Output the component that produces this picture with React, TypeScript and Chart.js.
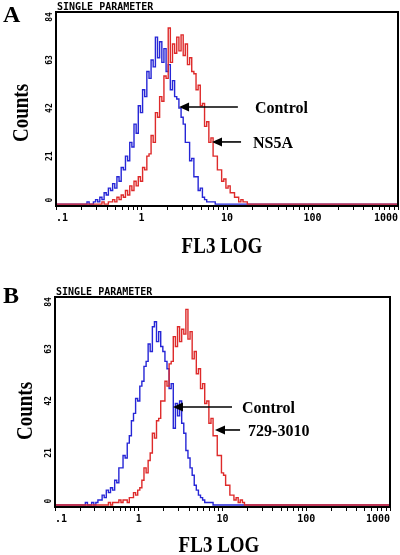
import React, { useEffect, useRef } from 'react';
import { Chart, registerables } from 'chart.js';

Chart.register(...registerables);

// Fluorescence channel values (FL3, log scale)
const fluorescence = [
  0.1,
  0.200, 0.212, 0.224, 0.237, 0.251, 0.266, 0.282, 0.299, 0.316, 0.335,
  0.355, 0.376, 0.398, 0.422, 0.447, 0.473, 0.501, 0.531, 0.562, 0.596,
  0.631, 0.668, 0.708, 0.750, 0.794, 0.841, 0.891, 0.944, 1.00, 1.06,
  1.12, 1.19, 1.26, 1.33, 1.41, 1.50, 1.58, 1.68, 1.78, 1.88,
  2.00, 2.11, 2.24, 2.37, 2.51, 2.66, 2.82, 2.99, 3.16, 3.35,
  3.55, 3.76, 3.98, 4.22, 4.47, 4.73, 5.01, 5.31, 5.62, 5.96,
  6.31, 6.68, 7.08, 7.50, 7.94, 8.41, 8.91, 9.44, 10.0, 10.6,
  11.2, 11.9, 12.6, 13.3, 14.1, 15.0, 15.8, 16.8, 17.8, 18.8, 20.0,
  1000,
];

// Panel A counts
const controlA = [
  0,
  0, 0, 0, 1, 0, 0, 1, 2, 1, 3,
  2, 5, 4, 7, 6, 9, 7, 12, 10, 16,
  15, 21, 19, 27, 25, 35, 31, 43, 40, 50,
  47, 58, 55, 63, 60, 73, 64, 71, 62, 68,
  58, 61, 50, 54, 47, 46, 42, 38, 35, 27,
  27, 19, 20, 12, 12, 6, 7, 3, 2, 1,
  1, 1, 1, 0, 0, 0, 0, 0, 0, 0,
  0, 0, 0, 0, 0, 0, 0, 0, 0, 0, 0,
  0,
];
const ns5aA = [
  0,
  0, 0, 0, 0, 0, 0, 0, 0, 0, 0,
  1, 0, 0, 1, 1, 2, 1, 3, 2, 4,
  3, 6, 4, 8, 6, 10, 8, 12, 10, 16,
  15, 21, 22, 30, 27, 40, 38, 47, 45, 56,
  55, 77, 62, 70, 66, 73, 67, 74, 65, 70,
  61, 64, 58, 57, 50, 52, 43, 44, 34, 36,
  27, 29, 21, 21, 15, 15, 10, 11, 7, 8,
  5, 5, 3, 3, 1, 2, 1, 1, 0, 0, 0,
  0,
];

// Panel B counts
const controlB = [
  0,
  0, 0, 0, 1, 0, 0, 1, 0, 1, 2,
  2, 4, 3, 6, 5, 7, 6, 10, 9, 15,
  15, 20, 19, 25, 28, 34, 37, 43, 42, 48,
  50, 56, 58, 65, 62, 72, 74, 66, 70, 64,
  62, 58, 55, 47, 49, 31, 41, 36, 42, 33,
  29, 22, 19, 15, 12, 8, 6, 4, 3, 2,
  1, 1, 1, 1, 0, 0, 0, 0, 0, 0,
  0, 0, 0, 0, 0, 0, 0, 0, 0, 0, 0,
  0,
];
const strainB = [
  0,
  0, 0, 0, 0, 0, 0, 0, 0, 0, 0,
  0, 0, 0, 0, 1, 0, 1, 1, 1, 2,
  1, 2, 2, 1, 3, 3, 5, 4, 6, 7,
  10, 15, 13, 18, 21, 29, 27, 34, 35, 42,
  42, 50, 48, 57, 58, 68, 64, 72, 66, 71,
  69, 79, 67, 70, 59, 62, 53, 55, 47, 49,
  41, 42, 33, 35, 28, 28, 20, 20, 13, 12,
  8, 8, 4, 4, 2, 3, 1, 2, 1, 0, 0,
  0,
];

const xTickValues = [
  0.1, 0.2, 0.3, 0.4, 0.5, 0.6, 0.7, 0.8, 0.9,
  1, 2, 3, 4, 5, 6, 7, 8, 9,
  10, 20, 30, 40, 50, 60, 70, 80, 90,
  100, 200, 300, 400, 500, 600, 700, 800, 900,
  1000,
];
const xTickLabels: Record<string, string> = { '0.1': '.1', '1': '1', '10': '10', '100': '100', '1000': '1000' };
const yTickValues = [0, 21, 42, 63, 84];
const yTickLabels = ['0', '21', '42', '63', '84'];

type Annot = { text: string; tipX: number; tailX: number; y: number; textX: number };

const annotationsA: Annot[] = [
  { text: 'Control', tipX: 2.75, tailX: 13.4, y: 42.5, textX: 21.2 },
  { text: 'NS5A', tipX: 6.68, tailX: 14.6, y: 27.2, textX: 20.1 },
];
const annotationsB: Annot[] = [
  { text: 'Control', tipX: 2.56, tailX: 13.0, y: 39.6, textX: 17.1 },
  { text: '729-3010', tipX: 8.13, tailX: 16.2, y: 30.3, textX: 20.2 },
];

type PanelCfg = {
  letter: string;
  height: number;
  padTop: number;
  padRight: number;
  yAxisWidth: number;
  xAxisHeight: number;
  control: number[];
  sample: number[];
  sampleName: string;
  annotations: Annot[];
  letterBaseline: number;
  countsCenter: [number, number];
  xTitleCenter: [number, number];
};

const panelA: PanelCfg = {
  letter: 'A', height: 275, padTop: 12, padRight: 2, yAxisWidth: 56, xAxisHeight: 69,
  control: controlA, sample: ns5aA, sampleName: 'NS5A', annotations: annotationsA,
  letterBaseline: 22, countsCenter: [20, 113], xTitleCenter: [222, 245],
};
const panelB: PanelCfg = {
  letter: 'B', height: 280, padTop: 22, padRight: 10, yAxisWidth: 55, xAxisHeight: 48,
  control: controlB, sample: strainB, sampleName: '729-3010', annotations: annotationsB,
  letterBaseline: 28, countsCenter: [24, 136], xTitleCenter: [219, 269],
};

const SERIF = '"Liberation Serif", "Times New Roman", serif';
const MONO = '"DejaVu Sans Mono", monospace';

function decorPlugin(cfg: PanelCfg) {
  return {
    id: 'decor' + cfg.letter,
    afterDraw(chart: any) {
      const ctx: CanvasRenderingContext2D = chart.ctx;
      const { left, right, top, bottom } = chart.chartArea;
      const xs = chart.scales.x;
      const ys = chart.scales.y;
      ctx.save();
      // frame
      ctx.strokeStyle = '#000';
      ctx.lineWidth = 2;
      ctx.strokeRect(left, top, right - left, bottom - top);
      ctx.fillStyle = '#000';
      // rotated y tick labels
      ctx.font = 'bold 8px ' + MONO;
      ctx.textAlign = 'center';
      ctx.textBaseline = 'middle';
      yTickValues.forEach((v, i) => {
        let py = ys.getPixelForValue(v);
        py = Math.min(Math.max(py, top + 5), bottom - 6);
        ctx.save();
        ctx.translate(left - 6, py);
        ctx.rotate(-Math.PI / 2);
        ctx.fillText(yTickLabels[i], 0, 0);
        ctx.restore();
      });
      // header
      ctx.font = 'bold 10px ' + MONO;
      ctx.textAlign = 'left';
      ctx.textBaseline = 'alphabetic';
      ctx.fillText('SINGLE PARAMETER', left + 1, top - 2.5);
      // panel letter
      ctx.font = 'bold 24px ' + SERIF;
      ctx.fillText(cfg.letter, 3, cfg.letterBaseline);
      // Counts
      ctx.save();
      ctx.translate(cfg.countsCenter[0], cfg.countsCenter[1]);
      ctx.rotate(-Math.PI / 2);
      ctx.scale(1, 1.2);
      ctx.font = 'bold 19px ' + SERIF;
      ctx.textAlign = 'center';
      ctx.fillText('Counts', 0, 6.3);
      ctx.restore();
      // x title
      ctx.save();
      ctx.translate(cfg.xTitleCenter[0], cfg.xTitleCenter[1]);
      ctx.scale(1, 1.2);
      ctx.font = 'bold 19px ' + SERIF;
      ctx.textAlign = 'center';
      ctx.fillText('FL3 LOG', 0, 6.3);
      ctx.restore();
      // annotations
      cfg.annotations.forEach((a) => {
        const tip = xs.getPixelForValue(a.tipX);
        const tail = xs.getPixelForValue(a.tailX);
        const py = ys.getPixelForValue(a.y);
        ctx.strokeStyle = '#000';
        ctx.lineWidth = 1.6;
        ctx.beginPath();
        ctx.moveTo(tail, py);
        ctx.lineTo(tip + 6, py);
        ctx.stroke();
        ctx.beginPath();
        ctx.moveTo(tip, py);
        ctx.lineTo(tip + 10, py - 4.5);
        ctx.lineTo(tip + 10, py + 4.5);
        ctx.closePath();
        ctx.fill();
        ctx.save();
        ctx.translate(xs.getPixelForValue(a.textX), py);
        ctx.scale(1, 1.1);
        ctx.font = 'bold 16px ' + SERIF;
        ctx.textAlign = 'left';
        ctx.fillText(a.text, 0, 5.3);
        ctx.restore();
      });
      ctx.restore();
    },
  };
}

function Panel({ cfg }: { cfg: PanelCfg }) {
  const ref = useRef<HTMLCanvasElement>(null);
  useEffect(() => {
    const chart = new Chart(ref.current as HTMLCanvasElement, {
      type: 'line',
      data: {
        datasets: [
          {
            label: cfg.sampleName,
            data: fluorescence.map((x, i) => ({ x, y: cfg.sample[i] })),
            borderColor: '#de2a2a',
            borderWidth: 1.4,
            pointRadius: 0,
            stepped: 'middle',
            fill: false,
          },
          {
            label: 'Control',
            data: fluorescence.map((x, i) => ({ x, y: cfg.control[i] })),
            borderColor: '#2626d6',
            borderWidth: 1.4,
            pointRadius: 0,
            stepped: 'middle',
            fill: false,
          },
        ],
      },
      options: {
        animation: false,
        responsive: false,
        maintainAspectRatio: false,
        layout: { padding: { top: cfg.padTop, right: cfg.padRight, left: 0, bottom: 0 } },
        plugins: {
          legend: { display: false },
          tooltip: { enabled: false },
          title: { display: false },
        },
        scales: {
          x: {
            type: 'logarithmic',
            min: 0.1,
            max: 1000,
            afterBuildTicks: (s: any) => {
              s.ticks = xTickValues.map((v) => ({ value: v }));
            },
            afterFit: (s: any) => {
              s.height = cfg.xAxisHeight;
              s.paddingLeft = 0;
              s.paddingRight = 0;
            },
            grid: {
              display: true,
              drawOnChartArea: false,
              drawTicks: true,
              tickLength: 4,
              tickColor: '#000',
              tickWidth: 1,
              color: '#000',
            },
            border: { display: false },
            ticks: {
              autoSkip: false,
              maxRotation: 0,
              minRotation: 0,
              align: 'inner',
              padding: 2,
              color: '#000',
              font: { family: 'DejaVu Sans Mono', size: 10, weight: 'bold' },
              callback: (v: any) => xTickLabels[String(v)] ?? '',
            },
          },
          y: {
            type: 'linear',
            min: -0.8,
            max: 84,
            ticks: { display: false },
            grid: { display: false },
            border: { display: false },
            afterFit: (s: any) => {
              s.width = cfg.yAxisWidth;
              s.paddingTop = 0;
              s.paddingBottom = 0;
            },
          },
        },
      } as any,
      plugins: [decorPlugin(cfg)],
    });
    return () => chart.destroy();
  }, [cfg]);
  return (
    <canvas
      ref={ref}
      width={400}
      height={cfg.height}
      style={{ display: 'block', width: 400, height: cfg.height }}
    />
  );
}

export default function App() {
  return (
    <div style={{ position: 'absolute', left: 0, top: 0, width: 400, height: 555, background: '#fff' }}>
      <Panel cfg={panelA} />
      <Panel cfg={panelB} />
    </div>
  );
}
